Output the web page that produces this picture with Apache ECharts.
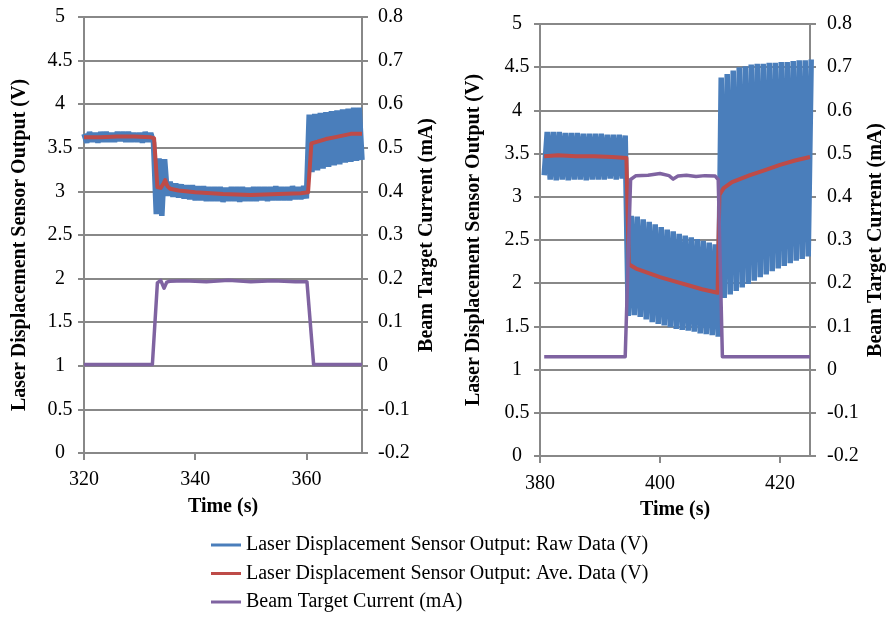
<!DOCTYPE html>
<html>
<head>
<meta charset="utf-8">
<script src="https://cdn.jsdelivr.net/npm/echarts@6/dist/echarts.min.js"></script>
<style>
  html, body { margin: 0; padding: 0; background: #fff; }
  #chart { width: 887px; height: 617px; }
</style>
</head>
<body>
<div id="chart"></div>
<script>
// ---- series names (legend) ----
const seriesNames = [
  'Laser Displacement Sensor Output: Raw Data (V)',
  'Laser Displacement Sensor Output: Ave. Data (V)',
  'Beam Target Current (mA)'
];

// ---- axis ticks ----
const timeTicksA = [320, 340, 360];
const timeTicksB = [380, 400, 420];

// ---- run A (320–370 s) ----
// raw sensor output, one sample every 0.5 s starting at 320 s
const rawStartA = 320;
const rawStepA = 0.5;
const rawValuesA = [
  3.66, 3.56, 3.68, 3.57, 3.67, 3.56, 3.68, 3.57, 3.68, 3.57,
  3.67, 3.57, 3.68, 3.58, 3.68, 3.57, 3.68, 3.57, 3.67, 3.57,
  3.67, 3.56, 3.68, 3.57, 3.67, 3.56,
  2.74, 3.38, 2.72, 3.37,
  2.95, 3.11, 2.94, 3.09, 2.93, 3.08, 2.92, 3.07, 2.91, 3.07,
  2.90, 3.06, 2.90, 3.06, 2.89, 3.05, 2.89, 3.05, 2.89, 3.05,
  2.88, 3.04, 2.89, 3.05, 2.89, 3.05, 2.88, 3.05, 2.89, 3.04,
  2.89, 3.05, 2.89, 3.05, 2.90, 3.05, 2.89, 3.05, 2.90, 3.06,
  2.90, 3.05, 2.90, 3.05, 2.90, 3.06, 2.91, 3.05, 2.91, 3.06,
  2.92, 3.88,
  3.22, 3.89, 3.24, 3.90, 3.26, 3.91, 3.28, 3.92, 3.30, 3.93,
  3.31, 3.94, 3.33, 3.95, 3.34, 3.96, 3.35, 3.96, 3.36
];
// averaged sensor output
const aveTimeA = [320, 323, 326, 329, 332, 332.6, 333.2, 333.8, 334.3, 334.6,
  335.0, 335.5, 337, 340, 345, 350, 355, 359, 360.3, 360.9,
  362, 363.5, 365, 366.5, 368, 370];
const aveValuesA = [3.62, 3.62, 3.63, 3.63, 3.62, 3.61, 3.05, 3.04, 3.09, 3.13,
  3.06, 3.03, 3.01, 2.99, 2.97, 2.96, 2.97, 2.98, 2.99, 3.55,
  3.57, 3.60, 3.62, 3.64, 3.66, 3.66];
// beam target current
const curTimeA = [320, 325, 332.3, 333.2, 333.8, 334.4, 334.9, 335.4, 338, 342,
  346, 350, 354, 358, 360.1, 361.3, 365, 370];
const curValuesA = [0.003, 0.003, 0.003, 0.190, 0.196, 0.178, 0.192, 0.194, 0.195, 0.193,
  0.196, 0.193, 0.195, 0.193, 0.193, 0.003, 0.003, 0.003];

// ---- run B (380–425 s) ----
const rawStartB = 380.7;
const rawStepB = 0.5;
const rawValuesB = [
  3.25, 3.75, 3.20, 3.75, 3.19, 3.75, 3.20, 3.74, 3.19, 3.74,
  3.20, 3.74, 3.20, 3.73, 3.19, 3.73, 3.20, 3.73, 3.20, 3.73,
  3.20, 3.72, 3.21, 3.72, 3.20, 3.72, 3.21, 3.71,
  1.62, 2.78, 1.63, 2.77, 1.61, 2.74, 1.58, 2.71, 1.55, 2.68,
  1.53, 2.65, 1.51, 2.62, 1.49, 2.60, 1.47, 2.57, 1.46, 2.55,
  1.45, 2.53, 1.44, 2.51, 1.42, 2.49, 1.41, 2.47, 1.40, 2.45,
  1.38, 4.38,
  1.83, 4.42, 1.87, 4.46, 1.91, 4.50, 1.95, 4.51, 1.99, 4.53,
  2.03, 4.54, 2.07, 4.54, 2.10, 4.55, 2.14, 4.55, 2.17, 4.56,
  2.20, 4.56, 2.23, 4.57, 2.26, 4.58, 2.28, 4.58, 2.31, 4.59
];
const aveTimeB = [380.7, 383, 386, 389, 392, 394.4, 394.8, 396, 398, 400,
  402, 405, 407, 409.6, 409.9, 410.6, 412, 413.5, 415, 417.5,
  420, 422.5, 425];
const aveValuesB = [3.47, 3.48, 3.47, 3.47, 3.46, 3.45, 2.22, 2.17, 2.12, 2.07,
  2.03, 1.97, 1.93, 1.89, 3.02, 3.10, 3.17, 3.21, 3.25, 3.31,
  3.37, 3.42, 3.46];
const curTimeB = [380.7, 385, 390, 394.2, 395.1, 396, 398, 400, 401.5, 402.2,
  403, 404.4, 406, 407.5, 409.2, 409.7, 410.4, 413, 418, 425];
const curValuesB = [0.030, 0.030, 0.030, 0.030, 0.440, 0.449, 0.450, 0.454, 0.449, 0.441,
  0.448, 0.450, 0.447, 0.449, 0.448, 0.440, 0.030, 0.030, 0.030, 0.030];

// ---- build [x, y] pairs for the library ----
function sampled(start, step, values) {
  return values.map((v, i) => [start + i * step, v]);
}
function paired(times, values) {
  return times.map((t, i) => [t, values[i]]);
}

const FONT = 'Liberation Serif';
const AXIS_GREY = '#888888';
const BLUE = '#4a7ebb';
const RED = '#be4b48';
const PURPLE = '#7f63a1';

const labelStyle = { fontFamily: FONT, fontSize: 20, color: '#000' };
const titleStyle = { fontFamily: FONT, fontSize: 20, fontWeight: 'bold', color: '#000' };
const axisLine = { show: true, onZero: false, lineStyle: { color: AXIS_GREY, width: 2 } };

function timeAxis(grid, min, max, ticks, gap, margin) {
  return {
    gridIndex: grid, type: 'value', min: min, max: max, interval: 20,
    axisLine: axisLine,
    axisTick: { show: true, length: 7, customValues: ticks, lineStyle: { color: AXIS_GREY, width: 2 } },
    axisLabel: Object.assign({ customValues: ticks, margin: margin }, labelStyle),
    splitLine: { show: false },
    name: 'Time (s)', nameLocation: 'middle', nameGap: gap, nameTextStyle: titleStyle
  };
}
function voltAxis(grid, gap, margin, shift) {
  return {
    gridIndex: grid, type: 'value', position: 'left', min: 0, max: 5, interval: 0.5,
    axisLine: axisLine,
    axisTick: { show: true, length: 6, lineStyle: { color: AXIS_GREY, width: 2 } },
    axisLabel: Object.assign({ margin: margin, align: 'center' }, labelStyle),
    splitLine: { show: true, lineStyle: { color: AXIS_GREY, width: 2 } },
    name: 'Laser Displacement Sensor Output (V)', nameLocation: 'middle', nameGap: gap,
    nameTextStyle: Object.assign({ padding: [0, shift, 0, 0] }, titleStyle)
  };
}
function currentAxis(grid, gap, margin) {
  return {
    gridIndex: grid, type: 'value', position: 'right', min: -0.2, max: 0.8, interval: 0.1,
    axisLine: axisLine,
    axisTick: { show: true, length: 6, lineStyle: { color: AXIS_GREY, width: 2 } },
    axisLabel: Object.assign({ margin: margin }, labelStyle),
    splitLine: { show: false },
    name: 'Beam Target Current (mA)', nameLocation: 'middle', nameGap: gap,
    nameTextStyle: titleStyle
  };
}
function lineSeries(name, xi, yi, data, color, width, join) {
  return {
    name: name, type: 'line', xAxisIndex: xi, yAxisIndex: yi, data: data,
    showSymbol: false, symbol: 'none',
    lineStyle: { color: color, width: width, join: join || 'round' },
    itemStyle: { color: color },
    emphasis: { disabled: true }, silent: true
  };
}

const chart = echarts.init(document.getElementById('chart'), null, { renderer: 'canvas' });
chart.setOption({
  animation: false,
  backgroundColor: '#fff',
  grid: [
    { left: 84, right: 525, top: 17, bottom: 164 },
    { left: 540, right: 76, top: 24, bottom: 161 }
  ],
  xAxis: [
    timeAxis(0, 320, 370, timeTicksA, 44, 17),
    timeAxis(1, 380, 425, timeTicksB, 44, 18)
  ],
  yAxis: [
    voltAxis(0, 54, 24, 20),
    currentAxis(0, 55, 16),
    voltAxis(1, 56, 23, 0),
    currentAxis(1, 56, 17)
  ],
  legend: {
    orient: 'vertical', left: 211, top: 535, height: 100, padding: 0,
    itemWidth: 30, itemHeight: 3, itemGap: 8.5, icon: 'rect',
    textStyle: labelStyle,
    data: seriesNames
  },
  series: [
    lineSeries(seriesNames[0], 0, 0, sampled(rawStartA, rawStepA, rawValuesA), BLUE, 5.5, 'bevel'),
    lineSeries(seriesNames[1], 0, 0, paired(aveTimeA, aveValuesA), RED, 4),
    lineSeries(seriesNames[2], 0, 1, paired(curTimeA, curValuesA), PURPLE, 3.5),
    lineSeries(seriesNames[0], 1, 2, sampled(rawStartB, rawStepB, rawValuesB), BLUE, 5.5, 'bevel'),
    lineSeries(seriesNames[1], 1, 2, paired(aveTimeB, aveValuesB), RED, 4),
    lineSeries(seriesNames[2], 1, 3, paired(curTimeB, curValuesB), PURPLE, 3.5)
  ]
});
</script>
</body>
</html>
